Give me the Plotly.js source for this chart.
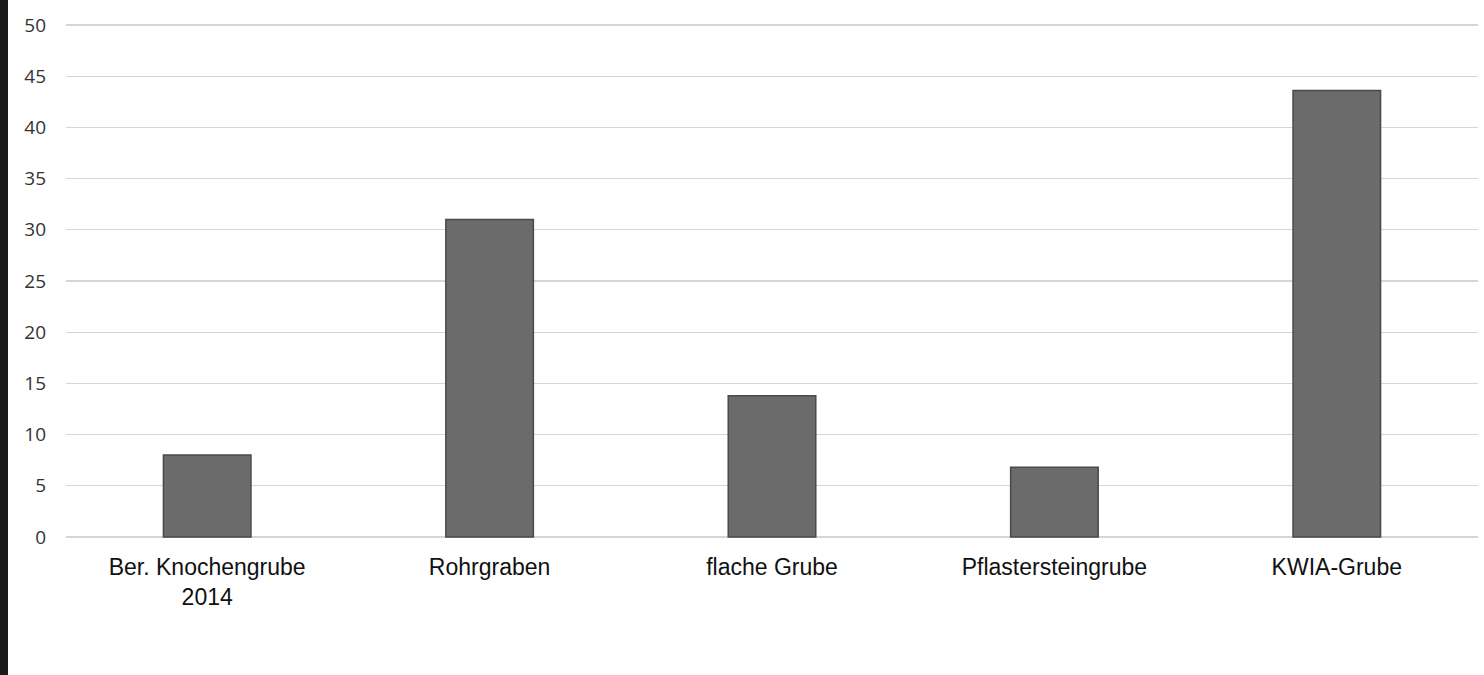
<!DOCTYPE html>
<html>
<head>
<meta charset="utf-8">
<script src="https://cdn.plot.ly/plotly-3.0.1.min.js"></script>
<style>html,body{margin:0;padding:0;background:#fff;}#chart{width:1484px;height:675px;}</style>
</head>
<body>
<div id="chart"></div>
<script>
const categories = ["Ber. Knochengrube<br>2014", "Rohrgraben", "flache Grube", "Pflastersteingrube", "KWIA-Grube"];
const values = [8, 31, 13.8, 6.8, 43.6];
const yTicks = [0, 5, 10, 15, 20, 25, 30, 35, 40, 45, 50];

const trace = {
  type: 'bar',
  x: categories,
  y: values,
  width: 0.31,
  marker: {color: '#6b6b6b', line: {color: '#4a4a4a', width: 1.5}},
  hoverinfo: 'none'
};

const layout = {
  width: 1484, height: 675,
  margin: {l: 66, r: 6, t: 24, b: 137},
  paper_bgcolor: '#ffffff', plot_bgcolor: '#ffffff',
  showlegend: false,
  font: {family: 'Liberation Sans, Arial, sans-serif', color: '#1a1a1a'},
  xaxis: {
    type: 'category', range: [-0.5, 4.5], showgrid: false, zeroline: false,
    showline: false, ticks: '', ticklabelstandoff: 13,
    tickfont: {size: 23, color: '#111'}
  },
  yaxis: {
    range: [-0.1, 50.1], tickvals: yTicks, ticktext: yTicks.map(String),
    showgrid: true, gridcolor: '#d6d6d6', gridwidth: 1.2, zeroline: false,
    showline: false, ticks: '', ticklabelstandoff: 19,
    tickfont: {size: 19, color: '#333', family: 'Open Sans, Liberation Sans, sans-serif'}
  },
  shapes: [{type: 'rect', xref: 'paper', yref: 'paper', x0: -66/1412, x1: -58/1412, y0: -137/514, y1: 1 + 24/514, fillcolor: '#1a1a1a', line: {width: 0}}]
};

Plotly.newPlot('chart', [trace], layout, {displayModeBar: false, staticPlot: true});
</script>
</body>
</html>
